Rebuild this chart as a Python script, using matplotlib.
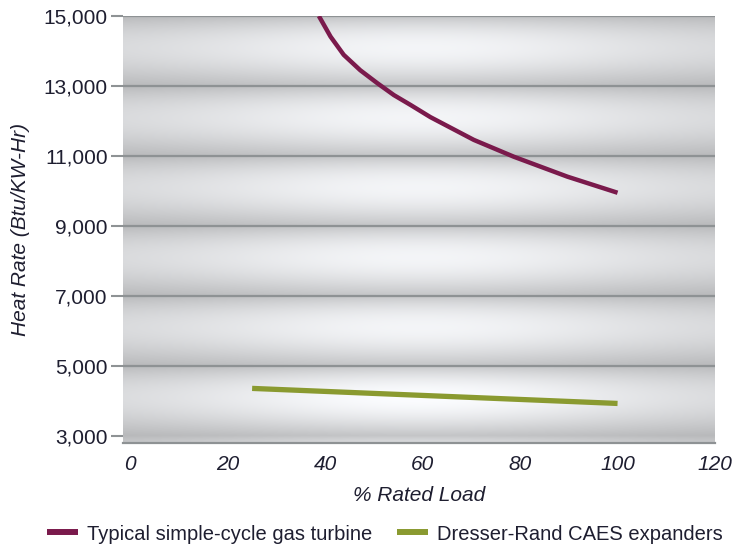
import numpy as np
from matplotlib import pyplot as plt
from matplotlib.lines import Line2D

plt.rcParams['font.family'] = ['Liberation Sans', 'DejaVu Sans']

# Data
turbine_load = [38.7, 41.1, 43.8, 47.2, 50.7, 54.1, 57.5, 61.6, 70.5, 78.7, 89.7, 100]
turbine_rate = [15000, 14410, 13890, 13450, 13080, 12740, 12460, 12110, 11460, 10980, 10410, 9950]
caes_load = [25, 100]
caes_rate = [4360, 3930]

yticks = [3000, 5000, 7000, 9000, 11000, 13000, 15000]
grid_levels = [5000, 7000, 9000, 11000, 13000, 15000]
xticks = [0, 20, 40, 60, 80, 100, 120]
labels = ['Typical simple-cycle gas turbine', 'Dresser-Rand CAES expanders']

turbine_color = '#7a1a4c'
caes_color = '#8a9a30'
text_color = '#1e1e30'
grid_color = '#8e9294'

xmin, xmax = -1.5, 120
ymin, ymax = 2800, 15000

fig = plt.figure(figsize=(7.39, 5.46), dpi=100)
ax = fig.add_axes([123/739, 1-443/546, 592/739, 427/546])

# banded gray background (cylinder-like shading between gridlines)
ny, nx = 500, 300
yy = np.linspace(ymax, ymin, ny)[:, None]
xx = np.linspace(0, 1, nx)[None, :]
t = ((ymax - yy) % 2000) / 2000.0
g = np.sin(np.pi * t**0.87)
w = np.exp(-((xx - 0.5)/0.4)**2)
lo = 0.72 + 0.06*w
amp = 0.12 + 0.07*w
img = lo + amp*g
img = img + np.where(yy < 5000, 0.03*w*g, 0)
img = np.clip(img, 0, 1)
ax.imshow(np.dstack([img*0.985, img*0.99, img]), extent=[xmin, xmax, ymin, ymax],
          aspect='auto', zorder=0, interpolation='bilinear')

for lvl in grid_levels:
    ax.axhline(lvl, color=grid_color, lw=1.6, zorder=1)

ax.plot(turbine_load, turbine_rate, color=turbine_color, lw=3.2, zorder=3,
        solid_capstyle='butt', solid_joinstyle='round')
ax.plot(caes_load, caes_rate, color=caes_color, lw=3.8, zorder=3,
        solid_capstyle='butt')

ax.set_xlim(xmin, xmax)
ax.set_ylim(ymin, ymax)
ax.set_yticks(yticks)
ax.set_yticklabels([f'{v:,}' for v in yticks], fontsize=15, color=text_color)
ax.set_xticks(xticks)
ax.set_xticklabels([str(v) for v in xticks], fontsize=15, style='italic', color=text_color)
ax.tick_params(axis='y', length=9, width=1.5, color=grid_color, pad=2)
ax.tick_params(axis='x', length=0, pad=9)

for s in ['top', 'right', 'left']:
    ax.spines[s].set_visible(False)
ax.spines['bottom'].set_color(grid_color)
ax.spines['bottom'].set_linewidth(1.6)

ax.set_xlabel('% Rated Load', fontsize=15, style='italic', color=text_color, labelpad=8)
ax.set_ylabel('Heat Rate (Btu/KW-Hr)', fontsize=15, style='italic', color=text_color, labelpad=10)

handles = [Line2D([], [], color=turbine_color, lw=4.3, solid_capstyle='butt'),
           Line2D([], [], color=caes_color, lw=4.3, solid_capstyle='butt')]
fig.legend(handles, labels, loc='center', bbox_to_anchor=(0.521, 12/546), ncol=2,
           frameon=False, fontsize=14.5, handlelength=1.55, handletextpad=0.45,
           columnspacing=1.2, labelcolor=text_color)

fig.savefig('out.png', dpi=100)
